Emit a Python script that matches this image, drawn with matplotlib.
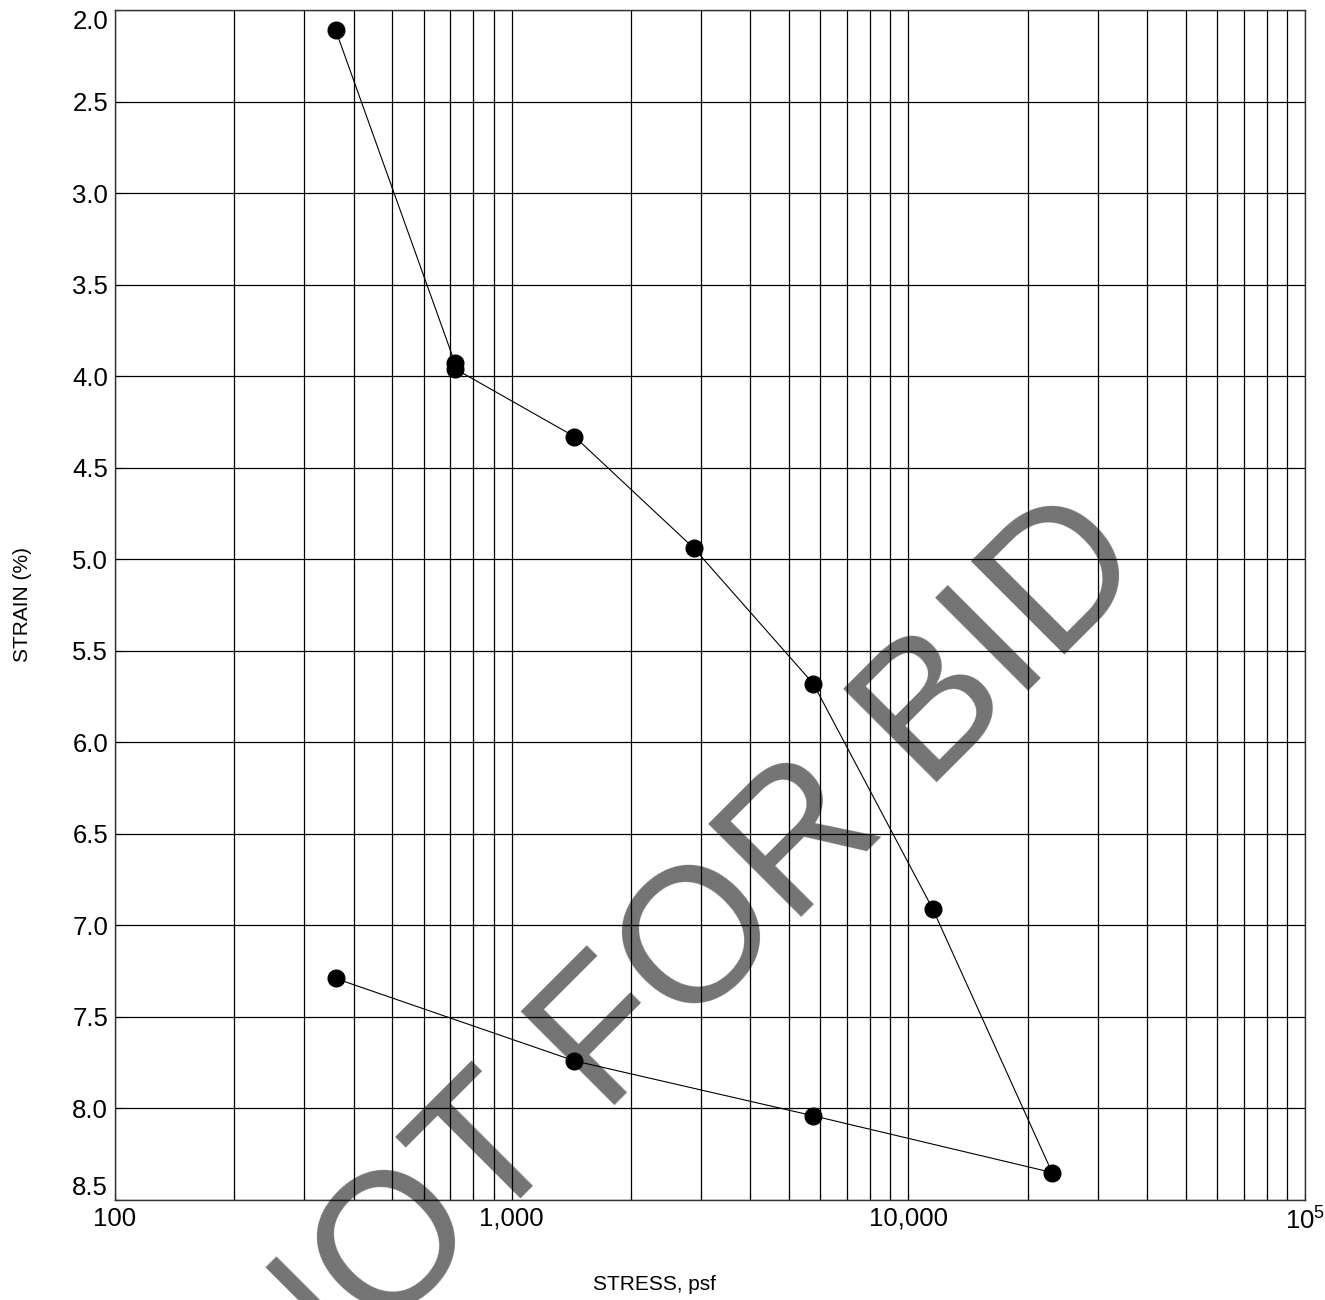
import matplotlib
matplotlib.use('Agg')
from matplotlib import pyplot as plt
from matplotlib.ticker import FixedLocator, NullFormatter
import numpy as np

plt.rcParams['font.family'] = ['Liberation Sans', 'DejaVu Sans']
plt.rcParams['mathtext.fontset'] = 'custom'
plt.rcParams['mathtext.rm'] = 'Liberation Sans'

'''Consolidation test readings (load, then rebound)'''
stress_psf = [360, 720, 720, 1440, 2880, 5760, 11520, 23040, 5760, 1440, 360]
strain_pct = [2.11, 3.93, 3.96, 4.33, 4.94, 5.68, 6.91, 8.35, 8.04, 7.74, 7.29]

x_ticks = [100, 1000, 10000, 100000]
x_tick_labels = ['100', '1,000', '10,000', r'$\mathregular{10^5}$']
y_ticks = [2.0, 2.5, 3.0, 3.5, 4.0, 4.5, 5.0, 5.5, 6.0, 6.5, 7.0, 7.5, 8.0, 8.5]
y_tick_labels = ['%.1f' % v for v in y_ticks]
watermark = 'NOT FOR BID'

W, H = 1325, 1300
fig = plt.figure(figsize=(W / 100, H / 100), dpi=100)
ax = fig.add_axes([115 / W, 1 - 1200 / H, 1190 / W, 1190 / H])

ax.plot(stress_psf, strain_pct, color='black', lw=0.8, marker='o',
        markersize=12, markerfacecolor='black', markeredgecolor='black', zorder=3)

ax.set_xscale('log')
ax.set_xlim(100, 100000)
ax.set_ylim(8.5, 2.0)

# grid on every major + minor decade line
ax.xaxis.set_major_locator(FixedLocator(x_ticks))
ax.set_xticklabels(x_tick_labels)
minors = [m * 10 ** d for d in range(2, 5) for m in range(2, 10)]
ax.xaxis.set_minor_locator(FixedLocator(minors))
ax.xaxis.set_minor_formatter(NullFormatter())
ax.set_yticks(y_ticks)
ax.set_yticklabels(y_tick_labels)
ax.grid(True, which='both', axis='x', color='black', lw=0.9)
ax.grid(True, which='major', axis='y', color='black', lw=0.9)

ax.tick_params(which='both', direction='in', length=4, width=0.8, labelsize=18.5, pad=5)
for s in ax.spines.values():
    s.set_color('#333333')
    s.set_linewidth(1.0)

yt = ax.yaxis.get_major_ticks()
yt[0].label1.set_va('top')
yt[-1].label1.set_va('bottom')

fig.text(654 / W, 1 - 1285 / H, 'STRESS, psf', fontsize=15, ha='center', va='center')
fig.text(23 / W, 1 - 605 / H, 'STRAIN (%)', fontsize=15, ha='center', va='center', rotation=90)

'''watermark across the plot'''
fig.text(284 / W, 1 - 1436 / H, watermark, fontsize=137.5, color='black', alpha=0.55,
         rotation=45, rotation_mode='anchor', ha='left', va='baseline', zorder=10)

plt.savefig('out.png', dpi=100)
